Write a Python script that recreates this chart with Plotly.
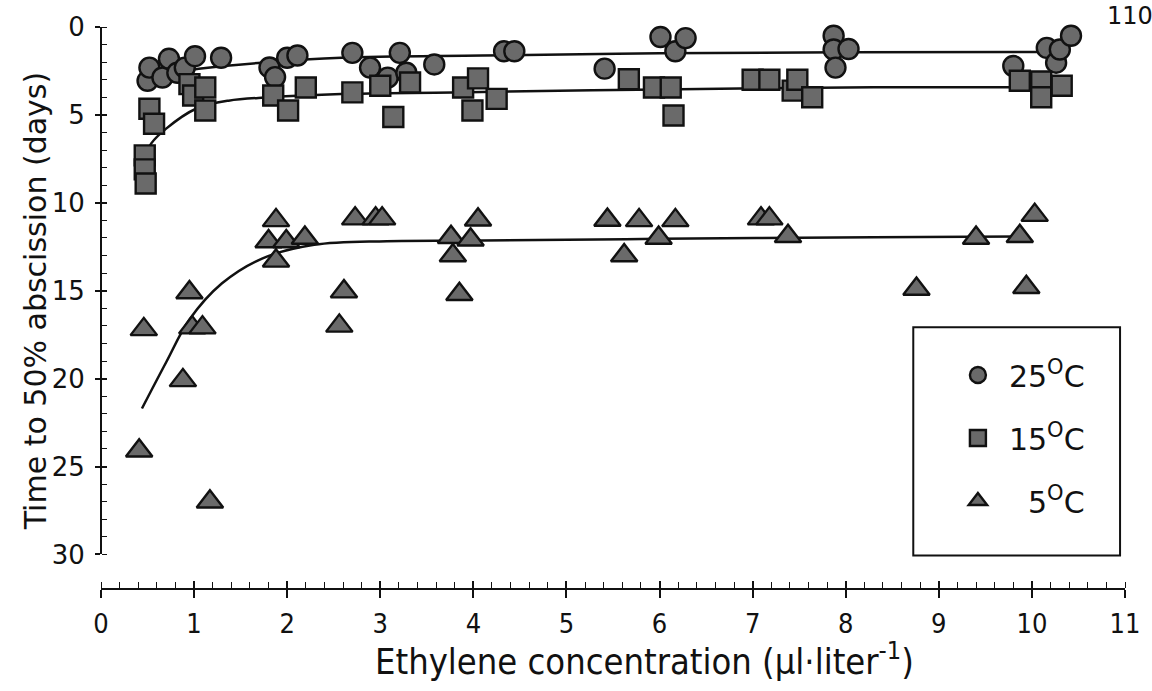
import plotly.graph_objects as go

# Ethylene concentration (µl/liter) and time to 50% abscission (days)
x_25 = [0.50, 0.52, 0.66, 0.73, 0.82, 0.90, 1.01, 1.29, 1.81, 1.87, 2.00, 2.11, 2.70, 2.89, 3.08,
        3.21, 3.28, 3.58, 4.33, 4.44, 5.41, 6.01, 6.17, 6.28, 7.87, 7.87, 7.89, 8.03, 9.80,
        10.16, 10.26, 10.30, 10.42]
d_25 = [3.06, 2.31, 2.87, 1.81, 2.60, 2.31, 1.66, 1.75, 2.30, 2.85, 1.75, 1.62, 1.47, 2.31, 2.88,
        1.47, 2.60, 2.13, 1.38, 1.38, 2.37, 0.57, 1.38, 0.63, 0.50, 1.28, 2.31, 1.25, 2.22,
        1.19, 2.03, 1.28, 0.50]

x_15 = [0.47, 0.47, 0.48, 0.52, 0.57, 0.95, 0.99, 1.12, 1.12, 1.85, 2.01, 2.20, 2.70, 3.00,
        3.14, 3.32, 3.89, 3.99, 4.05, 4.25, 5.67, 5.94, 6.12, 6.15, 7.00, 7.18, 7.43, 7.48,
        7.64, 9.87, 10.10, 10.10, 10.32]
d_15 = [7.3, 8.1, 8.9, 4.65, 5.5, 3.25, 3.9, 3.44, 4.75, 3.9, 4.75, 3.44, 3.72, 3.34,
        5.12, 3.16, 3.44, 4.75, 2.92, 4.09, 2.97, 3.44, 3.44, 5.03, 3.0, 3.0, 3.62, 3.0,
        4.0, 3.06, 3.1, 4.0, 3.34]

x_5 = [0.41, 0.46, 0.88, 0.95, 0.98, 1.09, 1.17, 1.80, 1.88, 1.88, 1.99, 2.19, 2.56, 2.61,
       2.73, 2.95, 3.02, 3.76, 3.78, 3.85, 3.97, 4.05, 5.44, 5.62, 5.78, 5.99, 6.17, 7.09,
       7.18, 7.38, 8.76, 9.40, 9.87, 9.94, 10.03]
d_5 = [24.1, 17.2, 20.1, 15.1, 17.1, 17.1, 27.0, 12.2, 11.0, 13.3, 12.2, 12.0, 17.0, 15.05,
       10.9, 10.9, 10.9, 11.96, 13.0, 15.2, 12.1, 10.96, 10.98, 13.0, 11.0, 12.0, 11.0, 10.9,
       10.9, 11.9, 14.9, 12.0, 11.9, 14.8, 10.7]

# Fitted response curves
fit_x_25 = [0.45, 0.70, 1.05, 1.73, 2.58, 4.10, 6.00, 8.00, 10.10]
fit_d_25 = [2.90, 2.65, 2.37, 2.03, 1.75, 1.62, 1.50, 1.43, 1.42]

fit_x_15 = [0.47, 0.54, 0.70, 1.02, 1.37, 1.80, 2.58, 3.78, 6.00, 8.30, 10.05]
fit_d_15 = [7.40, 6.62, 5.78, 4.65, 4.19, 4.00, 3.81, 3.72, 3.55, 3.42, 3.42]

fit_x_5 = [0.44, 0.70, 0.95, 1.30, 1.73, 2.29, 3.07, 4.10, 6.00, 8.30, 9.90]
fit_d_5 = [21.7, 19.07, 16.64, 14.58, 13.17, 12.39, 12.18, 12.15, 12.05, 11.96, 11.92]

series = [
    ("25<sup>O</sup>C", x_25, d_25, "circle", 20),
    ("15<sup>O</sup>C", x_15, d_15, "square", 20),
    ("\u20075<sup>O</sup>C", x_5, d_5, "triangle-up", 23),
]
fits = [(fit_x_25, fit_d_25), (fit_x_15, fit_d_15), (fit_x_5, fit_d_5)]

FILL = "#6a6a6a"
INK = "#111111"

fig = go.Figure()

for fx, fd in fits:
    fig.add_trace(go.Scatter(
        x=fx, y=fd, mode="lines", line=dict(color=INK, width=2.5, shape="spline", smoothing=1.0),
        showlegend=False, hoverinfo="skip", cliponaxis=False,
    ))

for i, (name, xs, ds, sym, size) in enumerate(series):
    fig.add_trace(go.Scatter(
        x=xs, y=ds, mode="markers", name=name, cliponaxis=False, legendgroup=f"g{i}",
        marker=dict(symbol=sym, size=size, color=FILL, line=dict(color=INK, width=2.4)),
    ))

# helper trace so the overlay axes (crossing tick marks) get drawn
fig.add_trace(go.Scatter(x=[None], y=[None], xaxis="x2", yaxis="y2", showlegend=False,
                         hoverinfo="skip"))

W, H = 1152, 691
L, R, T, B = 101, 16, 20, 102
plot_w = W - L - R
plot_h = H - T - B
y_bottom_px = 554
y_dom0 = (H - B - y_bottom_px) / plot_h


def px_x(p):
    return (p - L) / plot_w


def px_y(p):
    return (H - B - p) / plot_h


COND = "DejaVu Sans Condensed, Liberation Sans Narrow, DejaVu Sans"
tick_font = dict(family="DejaVu Sans", size=26, color=INK)
xtick_font = dict(family=COND, size=27, color=INK)

fig.update_layout(
    width=W, height=H,
    margin=dict(l=L, r=R, t=T, b=B, pad=0),
    paper_bgcolor="white", plot_bgcolor="white",
    showlegend=True,
    xaxis=dict(
        range=[0, 11], domain=[0, 1], anchor="free", position=0,
        showline=True, linecolor=INK, linewidth=2,
        ticks="outside", ticklen=8, tickwidth=1.6, tickcolor=INK, dtick=1, tick0=0,
        minor=dict(ticks="inside", dtick=0.2, ticklen=6, tickwidth=1.2, tickcolor=INK),
        showgrid=False, zeroline=False, tickfont=xtick_font, ticklabelstandoff=3,
    ),
    xaxis2=dict(
        range=[0, 11], domain=[0, 1], anchor="free", position=0, overlaying="x",
        showline=False, ticks="inside", ticklen=8, tickwidth=1.6, tickcolor=INK,
        dtick=1, tick0=0, showticklabels=False, showgrid=False, zeroline=False,
    ),
    yaxis=dict(
        range=[30, 0], domain=[y_dom0, 1], anchor="free", position=0,
        showline=True, linecolor=INK, linewidth=2,
        ticks="outside", ticklen=5, tickwidth=1.6, tickcolor=INK, dtick=5, tick0=0,
        minor=dict(ticks="inside", dtick=1, ticklen=5, tickwidth=1.2, tickcolor=INK),
        showgrid=False, zeroline=False, tickfont=tick_font, ticklabelstandoff=5,
    ),
    yaxis2=dict(
        range=[30, 0], domain=[y_dom0, 1], anchor="free", position=0, overlaying="y",
        showline=False, ticks="inside", ticklen=5, tickwidth=1.6, tickcolor=INK,
        dtick=5, tick0=0, showticklabels=False, showgrid=False, zeroline=False,
    ),
    legend=dict(
        x=px_x(956), y=px_y(346), xanchor="left", yanchor="top",
        font=dict(family="DejaVu Sans", size=30, color=INK),
        bgcolor="rgba(0,0,0,0)", borderwidth=0, itemwidth=52,
        tracegroupgap=21, traceorder="grouped", itemsizing="trace",
    ),
    shapes=[dict(
        type="rect", xref="paper", yref="paper",
        x0=px_x(922), x1=px_x(1131), y0=px_y(555), y1=px_y(324),
        line=dict(color=INK, width=2), fillcolor="rgba(0,0,0,0)", layer="below",
    )],
    annotations=[
        dict(text="Time to 50% abscission (days)", textangle=-90, xref="paper", yref="paper",
             x=px_x(35), y=px_y(298), xanchor="center", yanchor="middle", showarrow=False,
             font=dict(family="DejaVu Sans", size=30, color=INK)),
        dict(text="Ethylene concentration (\u03bcl\u00b7liter<sup>-1</sup>)", xref="paper", yref="paper",
             x=px_x(650), y=px_y(660), xanchor="center", yanchor="middle", showarrow=False,
             font=dict(family=COND, size=36, color=INK)),
        dict(text="110", xref="paper", yref="paper", x=px_x(1116), y=px_y(9),
             xanchor="left", yanchor="middle", showarrow=False,
             font=dict(family="DejaVu Sans", size=24, color=INK)),
    ],
)

fig.write_html("out.html")
